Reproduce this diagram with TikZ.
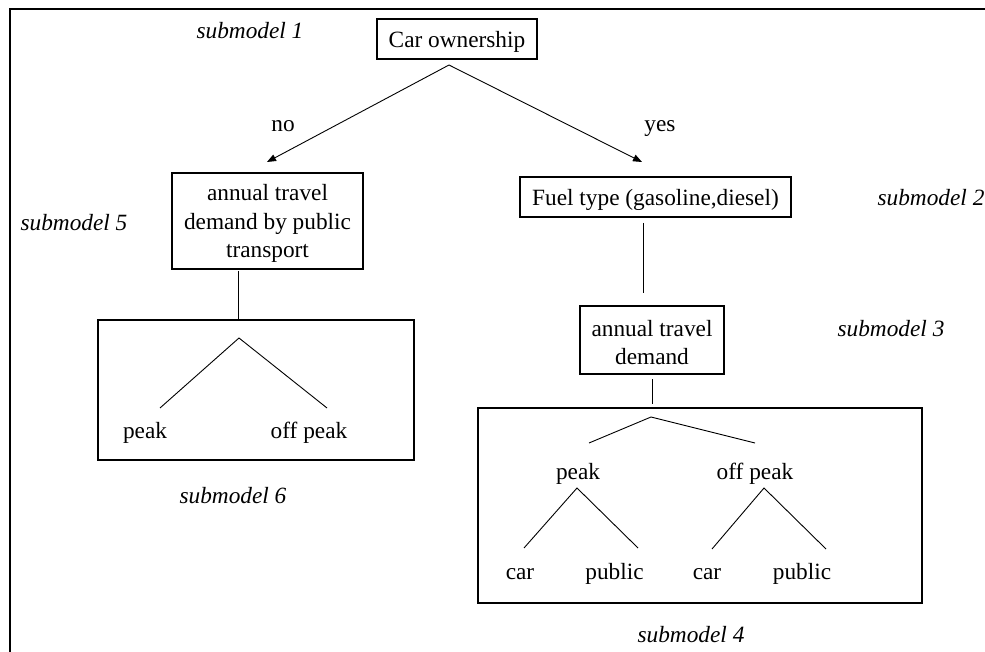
\documentclass[tikz,border=0pt]{standalone}
\usepackage{fontspec}
\setmainfont{Liberation Serif}
\usetikzlibrary{arrows.meta}
\newcommand{\dn}[1]{\raisebox{-2.5pt}[\height][\depth]{#1}}
\begin{document}
\begin{tikzpicture}[x=1pt,y=-1pt,
  every node/.style={font=\fontsize{23.3pt}{28.6pt}\selectfont, inner sep=0pt},
  box/.style={draw, line width=1.2pt, align=center},
  lbl/.style={text height=20pt, text depth=5pt},
  sub/.style={lbl, font=\fontsize{23.3pt}{28.6pt}\selectfont\itshape},
  conn/.style={line width=0.9pt},
  arr/.style={conn, -{Triangle[length=9pt,width=7pt]}}]
\useasboundingbox (0,0) rectangle (985,652);
% outer frame (left and top edges visible)
\draw[line width=2pt] (9.5,652) -- (9.5,9.5) -- (985,9.5);

% boxes
\node[box, minimum width=160pt, minimum height=40pt] (car) at (457,39) {\dn{Car ownership}};
\node[box, minimum width=191pt, minimum height=96pt] (pt) at (267.5,221) {\dn{annual travel}\\\dn{demand by public}\\\dn{transport}};
\node[box, minimum width=271pt, minimum height=40pt] (fuel) at (655.5,197) {\dn{Fuel type (gasoline,diesel)}};
\node[box, minimum width=144pt, minimum height=68pt] (atd) at (652,340) {\dn{annual travel}\\\dn{demand}};
\node[box, minimum width=316pt, minimum height=140pt] (s6) at (256,390) {};
\node[box, minimum width=444pt, minimum height=195pt] (s4) at (700,505.5) {};

% submodel labels
\node[sub] (m1) at (250,31) {submodel 1};
\node[sub] (m2) at (931,198) {submodel 2};
\node[sub] (m3) at (891,329) {submodel 3};
\node[sub] (m4) at (691,635) {submodel 4};
\node[sub] (m5) at (74,223) {submodel 5};
\node[sub] (m6) at (233,496) {submodel 6};

% branch labels
\node[lbl] (no) at (283,124) {no};
\node[lbl] (yes) at (660,124) {yes};

% top arrows
\coordinate (apex) at (449,65);
\coordinate (tipL) at (267,162);
\coordinate (tipR) at (642,162);
\draw[arr] (apex) -- (tipL);
\draw[arr] (apex) -- (tipR);

% vertical links
\coordinate (ptb) at (238,271);
\coordinate (s6t) at (238,320);
\draw[conn] (ptb) -- (s6t);
\coordinate (fuelb) at (643,223);
\coordinate (atdt) at (643,293);
\draw[conn] (fuelb) -- (atdt);
\coordinate (atdb) at (652,379);
\coordinate (s4t) at (652,404);
\draw[conn] (atdb) -- (s4t);

% submodel 6 tree
\node[lbl] (pk6) at (145,431) {peak};
\node[lbl] (op6) at (309,431) {off peak};
\coordinate (a6) at (239,338);
\coordinate (l6) at (160,408);
\coordinate (r6) at (327,408);
\draw[conn] (l6) -- (a6) -- (r6);

% submodel 4 tree
\node[lbl] (pk4) at (578,472) {peak};
\node[lbl] (op4) at (755,472) {off peak};
\coordinate (a4) at (651,417);
\coordinate (l4) at (589,443);
\coordinate (r4) at (755,443);
\draw[conn] (l4) -- (a4) -- (r4);

\node[lbl] (c1) at (520,572) {car};
\node[lbl] (p1) at (614.5,572) {public};
\node[lbl] (c2) at (707,572) {car};
\node[lbl] (p2) at (802,572) {public};

\coordinate (ap) at (577,488);
\coordinate (apl) at (524,548);
\coordinate (apr) at (638,548);
\draw[conn] (apl) -- (ap) -- (apr);
\coordinate (ao) at (764,488);
\coordinate (aol) at (712,549);
\coordinate (aor) at (826,549);
\draw[conn] (aol) -- (ao) -- (aor);
\end{tikzpicture}
\end{document}
